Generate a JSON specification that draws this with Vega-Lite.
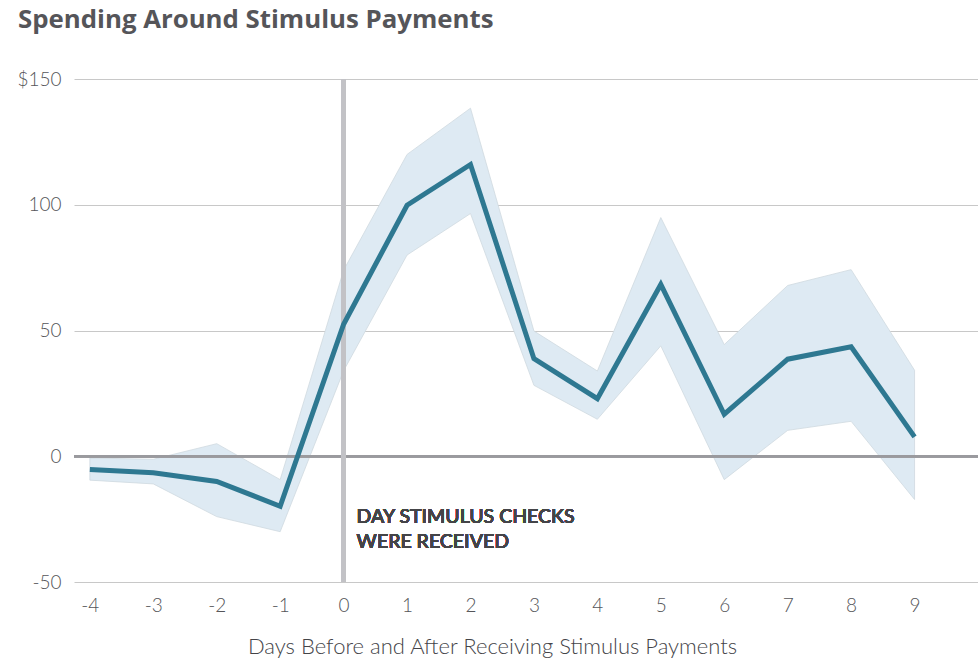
{
  "$schema": "https://vega.github.io/schema/vega-lite/v6.json",
  "width": 904,
  "height": 503,
  "autosize": "none",
  "padding": {"left": 74, "top": 79, "right": 0, "bottom": 84},
  "background": "white",
  "title": {
    "text": "Spending Around Stimulus Payments",
    "anchor": "start",
    "frame": "group",
    "dx": -56,
    "offset": 36,
    "font": "Open Sans",
    "fontSize": 25.8,
    "fontWeight": "bold",
    "color": "#555559"
  },
  "config": {
    "view": {"stroke": null},
    "font": "Lato"
  },
  "data": {
    "values": [
      {"day": -4, "mean": -5.3, "lower": -9.5, "upper": -0.7},
      {"day": -3, "mean": -6.6, "lower": -11, "upper": -1.2},
      {"day": -2, "mean": -10, "lower": -24, "upper": 5},
      {"day": -1, "mean": -19.9, "lower": -30, "upper": -9.3},
      {"day": 0, "mean": 52.5, "lower": 34, "upper": 74},
      {"day": 1, "mean": 99.8, "lower": 80, "upper": 120},
      {"day": 2, "mean": 116, "lower": 96.5, "upper": 138.4},
      {"day": 3, "mean": 38.8, "lower": 28.2, "upper": 49.8},
      {"day": 4, "mean": 22.9, "lower": 14.7, "upper": 33.9},
      {"day": 5, "mean": 68.3, "lower": 43.9, "upper": 94.9},
      {"day": 6, "mean": 16.7, "lower": -9.3, "upper": 44.4},
      {"day": 7, "mean": 38.6, "lower": 10.3, "upper": 67.9},
      {"day": 8, "mean": 43.5, "lower": 13.9, "upper": 74.2},
      {"day": 9, "mean": 7.7, "lower": -17.2, "upper": 34.2}
    ]
  },
  "layer": [
    {
      "mark": {"type": "area", "color": "#deeaf3", "opacity": 1, "stroke": "#cfd9e0", "strokeWidth": 0.8},
      "encoding": {
        "x": {
          "field": "day",
          "type": "quantitative",
          "scale": {"domain": [-4.25, 10], "nice": false, "zero": false},
          "axis": {
            "values": [-4, -3, -2, -1, 0, 1, 2, 3, 4, 5, 6, 7, 8, 9],
            "labelExpr": "datum.value < 0 ? '-' + format(-datum.value, 'd') : format(datum.value, 'd')",
            "title": "Days Before and After Receiving Stimulus Payments",
            "titleFont": "Lato",
            "titleFontSize": 22,
            "titleFontWeight": 300,
            "titleColor": "#444448",
            "titlePadding": 21,
            "titleX": 418,
            "titleAlign": "center",
            "labelFont": "Lato",
            "labelFontSize": 19,
            "labelFontWeight": 300,
            "labelColor": "#555559",
            "labelPadding": 14,
            "grid": false,
            "ticks": false,
            "domain": false
          }
        },
        "y": {
          "field": "lower",
          "type": "quantitative",
          "scale": {"domain": [-50, 150], "nice": false},
          "axis": {
            "values": [-50, 0, 50, 100, 150],
            "labelExpr": "datum.value == 150 ? '$150' : (datum.value < 0 ? '-' + format(-datum.value, 'd') : format(datum.value, 'd'))",
            "title": null,
            "labelFont": "Lato",
            "labelFontSize": 19,
            "labelFontWeight": 300,
            "labelColor": "#555559",
            "labelPadding": 13,
            "grid": true,
            "gridColor": "#c8c8c8",
            "gridWidth": 1,
            "ticks": false,
            "domain": false
          }
        },
        "y2": {"field": "upper"}
      }
    },
    {
      "mark": {"type": "rule", "color": "#9a9a9e", "strokeWidth": 2},
      "encoding": {"y": {"datum": 0}}
    },
    {
      "mark": {"type": "rule", "color": "#c2c2c6", "strokeWidth": 4.5},
      "encoding": {"x": {"datum": 0}}
    },
    {
      "mark": {"type": "line", "color": "#2e7891", "strokeWidth": 5, "strokeJoin": "miter"},
      "encoding": {
        "x": {"field": "day", "type": "quantitative"},
        "y": {"field": "mean", "type": "quantitative"}
      }
    },
    {
      "mark": {
        "type": "text",
        "align": "left",
        "baseline": "alphabetic",
        "dx": 13,
        "font": "Lato",
        "fontSize": 19.5,
        "fontWeight": 500,
        "color": "#444448",
        "lineHeight": 25
      },
      "encoding": {
        "x": {"datum": 0},
        "y": {"datum": -26.6},
        "text": {"value": ["DAY STIMULUS CHECKS", "WERE RECEIVED"]}
      }
    }
  ]
}
